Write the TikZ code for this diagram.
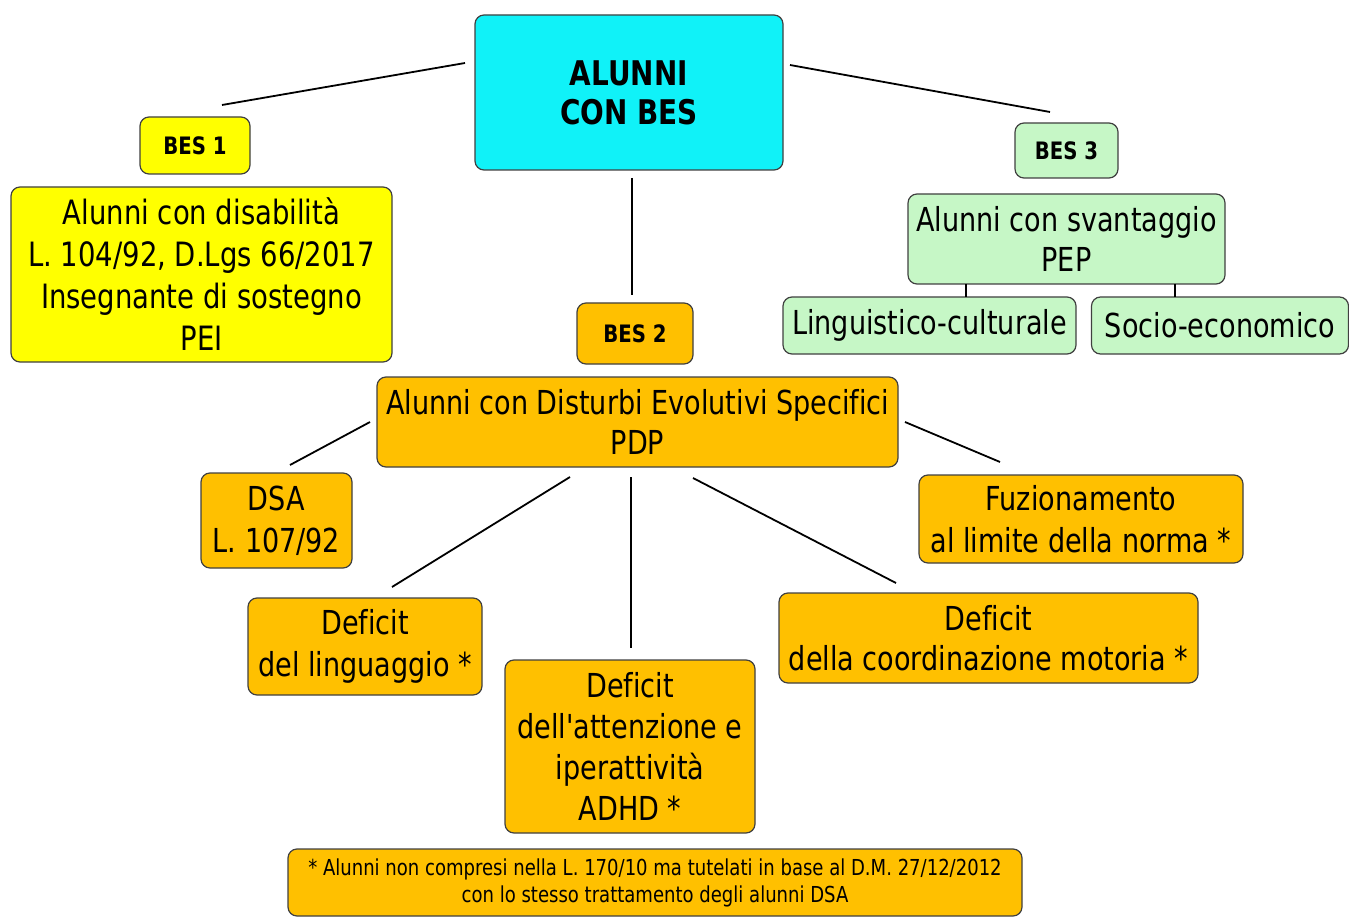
\documentclass[tikz,border=0pt]{standalone}
\usepackage{fontspec}
\setmainfont[FakeStretch=0.82,Ligatures={TeXOff,CommonOff}]{DejaVu Sans}
\definecolor{cyanbox}{HTML}{10F2F8}
\definecolor{yellowbox}{HTML}{FFFF00}
\definecolor{orangebox}{HTML}{FFC000}
\definecolor{greenbox}{HTML}{C6F7C6}
\definecolor{boxborder}{HTML}{404040}
\tikzset{
  box/.style={draw=boxborder, line width=1.2pt, rounded corners=9pt, align=center, inner sep=0pt, anchor=center},
  mainfont/.style={font=\fontsize{33}{42}\selectfont},
  labelfont/.style={font=\fontsize{24}{28}\selectfont\bfseries},
  conn/.style={draw=black, line width=1.8pt},
}
\begin{document}
\begin{tikzpicture}[x=1pt,y=-1pt]
\useasboundingbox (0,0) rectangle (1349,917);
% nodes
\node[box, fill=cyanbox, minimum width=308pt, minimum height=155pt, font=\fontsize{34}{39}\selectfont\bfseries] (root) at (629,92.5) {ALUNNI\\CON BES};
\node[box, fill=yellowbox, minimum width=110pt, minimum height=57pt, labelfont] (bes1) at (195,145.5) {BES 1};
\node[box, fill=yellowbox, minimum width=381pt, minimum height=175pt, font=\fontsize{33.5}{42}\selectfont] (d1) at (201.5,274.5) {Alunni con disabilità\\L. 104/92, D.Lgs 66/2017\\Insegnante di sostegno\\PEI};
\node[box, fill=greenbox, minimum width=103pt, minimum height=55pt, labelfont] (bes3) at (1066.5,150.5) {BES 3};
\node[box, fill=greenbox, minimum width=317pt, minimum height=90pt, font=\fontsize{33}{40}\selectfont] (svant) at (1066.5,239) {Alunni con svantaggio\\PEP};
\node[box, fill=greenbox, minimum width=293pt, minimum height=57pt, mainfont] (ling) at (929.5,325.5) {Linguistico-culturale};
\node[box, fill=greenbox, minimum width=257pt, minimum height=57pt, mainfont] (socio) at (1220,325.5) {Socio-economico};
\node[box, fill=orangebox, minimum width=116pt, minimum height=61pt, labelfont] (bes2) at (635,333.5) {BES 2};
\node[box, fill=orangebox, minimum width=521pt, minimum height=90pt, font=\fontsize{33}{40}\selectfont] (pdp) at (637.5,422) {Alunni con Disturbi Evolutivi Specifici\\PDP};
\node[box, fill=orangebox, minimum width=151pt, minimum height=95pt, mainfont] (dsa) at (276.5,520.5) {DSA\\L. 107/92};
\node[box, fill=orangebox, minimum width=324pt, minimum height=88pt, mainfont] (fuz) at (1081,519) {Fuzionamento\\al limite della norma *};
\node[box, fill=orangebox, minimum width=234pt, minimum height=97pt, mainfont] (lingua) at (365,646.5) {Deficit\\del linguaggio *};
\node[box, fill=orangebox, minimum width=250pt, minimum height=173pt, font=\fontsize{33}{41}\selectfont] (adhd) at (630,746.5) {Deficit\\dell'attenzione e\\iperattività\\ADHD *};
\node[box, fill=orangebox, minimum width=419pt, minimum height=90pt, font=\fontsize{33}{40}\selectfont] (coord) at (988.5,638) {Deficit\\della coordinazione motoria *};
\node[box, fill=orangebox, minimum width=734pt, minimum height=67pt, font=\fontsize{22}{27}\selectfont] (note) at (655,882.5) {* Alunni non compresi nella L. 170/10 ma tutelati in base al D.M. 27/12/2012\\con lo stesso trattamento degli alunni DSA};
% connector ends
\coordinate (rA) at (465,63);   \coordinate (b1A) at (222,105);
\coordinate (rB) at (790,65);   \coordinate (b3A) at (1050,112);
\coordinate (rC) at (632,178);  \coordinate (b2A) at (632,295);
\coordinate (sA) at (966,284);  \coordinate (lA) at (966,297);
\coordinate (sB) at (1175,284); \coordinate (soA) at (1175,297);
\coordinate (pA) at (370,422);  \coordinate (dA) at (290,465);
\coordinate (pB) at (905,422);  \coordinate (fA) at (1000,462);
\coordinate (pC) at (570,477);  \coordinate (lgA) at (392,587);
\coordinate (pD) at (631,477);  \coordinate (aA) at (631,648);
\coordinate (pE) at (693,478);  \coordinate (cA) at (896,583);
% connectors
\draw[conn] (rA) -- (b1A);
\draw[conn] (rB) -- (b3A);
\draw[conn] (rC) -- (b2A);
\draw[conn, line width=1.2pt] (sA) -- (lA);
\draw[conn, line width=1.2pt] (sB) -- (soA);
\draw[conn] (pA) -- (dA);
\draw[conn] (pB) -- (fA);
\draw[conn] (pC) -- (lgA);
\draw[conn] (pD) -- (aA);
\draw[conn] (pE) -- (cA);
\end{tikzpicture}
\end{document}
